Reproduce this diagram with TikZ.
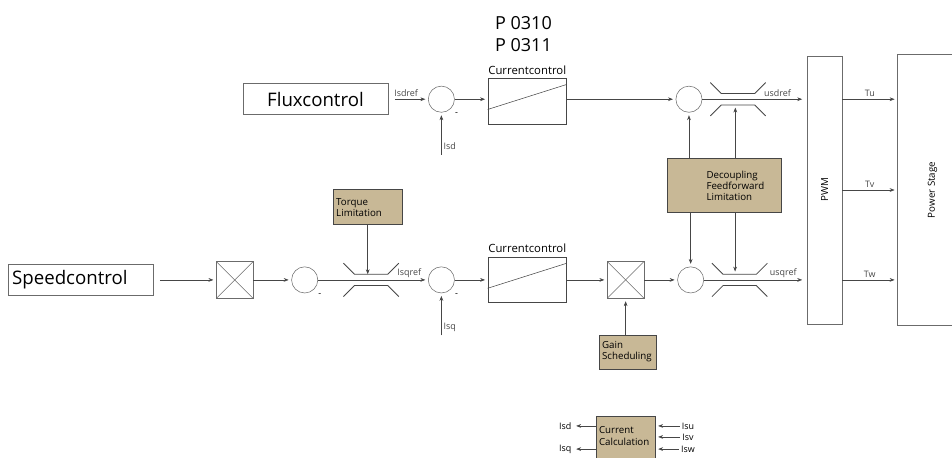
\documentclass[tikz,border=0pt]{standalone}
\usepackage{fontspec}
\usepackage{graphicx}
\setmainfont{Open Sans}
\usepackage{tikz}
\usetikzlibrary{arrows.meta, positioning}
\definecolor{colLine}{RGB}{70,70,70}
\definecolor{colTan}{RGB}{200,184,150}

\begin{document}
\begin{tikzpicture}[
  ctlbox/.style={rectangle, draw=colLine!80, font=\fontsize{14}{17}\selectfont,
                 minimum width=3.82cm, minimum height=0.82cm, inner sep=0.11cm},
  ctrlbox/.style={rectangle, draw=colLine, minimum width=2.07cm, minimum height=1.2cm},
  sumnode/.style={circle, draw=colLine!80, minimum size=0.69cm, inner sep=0pt},
  mulbox/.style={rectangle, draw=colLine!80, minimum size=0.97cm, inner sep=0pt,
                 path picture={
                   \draw[colLine!80] (path picture bounding box.north west) -- (path picture bounding box.south east);
                   \draw[colLine!80] (path picture bounding box.south west) -- (path picture bounding box.north east);}},
  tanbox/.style={rectangle, draw=colLine, fill=colTan, align=left, inner sep=0.08cm,
                 font=\fontsize{7.3}{8.4}\selectfont},
  whitebar/.style={rectangle, draw=colLine!80, font=\fontsize{7.3}{8.4}\selectfont},
  lbl/.style={inner sep=1.5pt, font=\fontsize{6.7}{8}\selectfont},
  ctltxt/.style={inner sep=1pt, font=\fontsize{8.5}{10}\selectfont},
  narr/.style={-{Stealth[length=3.7pt,width=2.8pt]}, colLine, shorten >=2pt},
  limiter/.pic={
    \draw[colLine, line width=0.6pt] (-0.73,0.44) -- (-0.44,0.15) -- (0.44,0.15) -- (0.73,0.44);
    \draw[colLine, line width=0.6pt] (-0.73,-0.44) -- (-0.44,-0.15) -- (0.44,-0.15) -- (0.73,-0.44);
  },
]

\useasboundingbox (0,0) rectangle (25.1,-12.075);
\clip (0,0) rectangle (25.1,-12.075);

% lower row
\node[ctlbox, align=left, text width=3.6cm] (speed) at (2.12,-7.38) {Speedcontrol};
\node[mulbox, right=1.66cm of speed] (mulq) {};
\node[sumnode, right=1.00cm of mulq] (sumq) {};
\coordinate[right=1.40cm of sumq] (limq);
\node[sumnode, right=1.50cm of limq] (sumqi) {};
\node[ctrlbox, right=0.87cm of sumqi] (ctrlq) {};
\node[mulbox, right=1.06cm of ctrlq] (mulqi) {};
\node[sumnode, right=0.87cm of mulqi] (sumqu) {};
\coordinate[right=0.94cm of sumqu] (limqu);

% upper row
\node[sumnode, above=4.06cm of sumqi] (sumdi) {};
\node[ctlbox, left=1.05cm of sumdi] (flux) {Fluxcontrol};
\node[ctrlbox, right=0.87cm of sumdi, yshift=-0.05cm] (ctrld) {};
\node[sumnode, right=2.87cm of ctrld, yshift=0.05cm] (sumdu) {};
\coordinate[right=0.94cm of sumdu] (limdu);

\node[ctltxt, above=0.06cm of ctrld] (ctrldtxt) {Currentcontrol};
\node[ctltxt, above=0.06cm of ctrlq] (ctrlqtxt) {Currentcontrol};
\node[above=0.2cm of ctrldtxt, xshift=-0.1cm, align=center,
      font=\fontsize{13.5}{16.4}\selectfont] (param) {P 0310\\P 0311};

% limitation and scheduling blocks
\node[tanbox, above=1.45cm of limq, xshift=-0.09cm, text width=1.66cm, minimum height=0.92cm] (torque) {Torque\\Limitation};
\node[tanbox, below=1.56cm of limdu, xshift=-0.36cm, text width=2.84cm, minimum height=1.42cm] (decoup)
  {\hspace*{0.95cm}Decoupling\\\hspace*{0.95cm}Feedforward\\\hspace*{0.95cm}Limitation};
\node[tanbox, below=0.95cm of mulqi, xshift=0.05cm, text width=1.34cm, minimum height=0.9cm] (gain) {Gain\\Scheduling};
\node[tanbox, below=1.24cm of gain, xshift=-0.05cm, text width=1.40cm, minimum height=1.32cm] (calc) {Current\\Calculation\\~};

% output stage
\node[whitebar, minimum width=0.92cm, minimum height=7.07cm] (pwm) at (21.74,-5.01) {\rotatebox{90}{PWM}};
\node[whitebar, right=1.45cm of pwm, minimum width=1.85cm, minimum height=7.15cm] (power) {\rotatebox{90}{Power Stage}};

% feedback signals
\coordinate[below=1.11cm of sumdi] (isdin);
\coordinate[below=1.11cm of sumqi] (isqin);
\node[lbl] (isuin) at (18.14,-11.23) {Isu};
\node[lbl] (isvin) at (18.14,-11.52) {Isv};
\node[lbl] (iswin) at (18.14,-11.84) {Isw};
\node[lbl] (isdout) at (14.90,-11.23) {Isd};
\node[lbl] (isqout) at (14.90,-11.84) {Isq};

% minus signs
\node[lbl] (minusdi) at ([shift={(0.4,-0.4)}]sumdi) {-};
\node[lbl] (minusq) at ([shift={(0.4,-0.4)}]sumq) {-};
\node[lbl] (minusqi) at ([shift={(0.4,-0.4)}]sumqi) {-};

% limiters
\pic at (limq) {limiter};
\pic at (limqu) {limiter};
\pic at (limdu) {limiter};
\coordinate (limqtop) at ([yshift=0.15cm]limq);
\coordinate (limdin) at ([xshift=-0.07cm,yshift=-0.15cm]limdu);
\coordinate (limqin) at ([xshift=-0.12cm,yshift=0.15cm]limqu);

% ramps
\draw[colLine] ([yshift=-0.22cm]ctrld.west) -- ([yshift=0.44cm]ctrld.east);
\draw[colLine] ([yshift=-0.22cm]ctrlq.west) -- ([yshift=0.44cm]ctrlq.east);

% arrows
\draw[narr, shorten <=5pt] (speed) -- (mulq);
\draw[narr] (mulq) -- (sumq);
\draw[narr] (sumq) -- node[lbl, above, pos=0.83]{Isqref} (sumqi);
\draw[narr] (sumqi) -- (ctrlq);
\draw[narr] (ctrlq) -- (mulqi);
\draw[narr] (mulqi) -- (sumqu);
\draw[narr, shorten >=3.5pt] (sumqu) -- node[lbl, above, pos=0.77]{usqref} (sumqu -| pwm.west);

\draw[narr, shorten <=5pt] (flux.east) -- node[lbl, above, pos=0.45]{Isdref} (sumdi.west |- flux.east);
\draw[narr] (sumdi) -- (ctrld.west |- sumdi);
\draw[narr] (ctrld.east |- sumdu) -- (sumdu);
\draw[narr, shorten >=3.5pt] (sumdu) -- node[lbl, above, pos=0.72]{usdref} (sumdu -| pwm.west);

\draw[narr] (isdin) -- node[lbl, right, pos=0.2]{Isd} (sumdi.south);
\draw[narr] (isqin) -- node[lbl, right, pos=0.2]{Isq} (sumqi.south);

\draw[narr, shorten >=0pt] (torque.south) -- (torque.south |- limqtop);
\draw[narr] (gain.north -| mulqi) -- (mulqi.south);

\draw[narr] (sumdu |- decoup.north) -- (sumdu.south);
\draw[narr] (sumqu |- decoup.south) -- (sumqu.north);
\draw[narr] (limdin |- decoup.north) -- (limdin);
\draw[narr] (limqin |- decoup.south) -- (limqin);

\draw[narr] (pwm.east |- sumdu) -- node[lbl, above]{Tu} (power.west |- sumdu);
\draw[narr] (pwm.east) -- node[lbl, above]{Tv} (power.west |- pwm.east);
\draw[narr] (pwm.east |- sumqu) -- node[lbl, above]{Tw} (power.west |- sumqu);

\draw[narr] (calc.west |- isdout) -- (isdout.east);
\draw[narr] (calc.west |- isqout) -- (isqout.east);
\draw[narr] (isuin.west) -- (isuin.west -| calc.east);
\draw[narr] (isvin.west) -- (isvin.west -| calc.east);
\draw[narr] (iswin.west) -- (iswin.west -| calc.east);

\end{tikzpicture}
\end{document}
